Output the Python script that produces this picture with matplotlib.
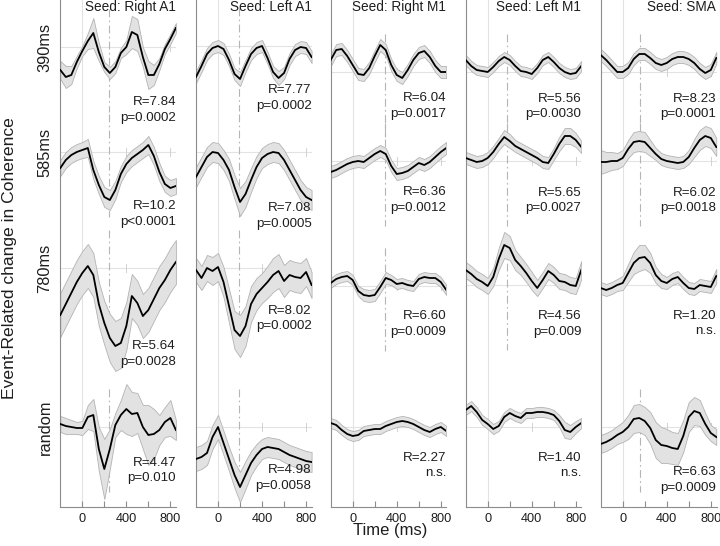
import matplotlib
matplotlib.use('Agg')
import matplotlib.pyplot as plt

plt.rcParams['font.family'] = ['Liberation Sans', 'DejaVu Sans']

# ---------------- data ----------------
TIME_MS = [-200, -150, -100, -50, 0, 50, 100, 150, 200, 250, 300,
           350, 400, 450, 500, 550, 600, 650, 700, 750, 800, 850]

SEEDS = ['Seed: Right A1', 'Seed: Left A1', 'Seed: Right M1', 'Seed: Left M1', 'Seed: SMA']
CONDITIONS = ['390ms', '585ms', '780ms', 'random']
X_TICKS = [0, 200, 400, 600, 800]
X_TICK_LABELS = ['0', '', '400', '', '800']
MARKER_MS = [240, 195, 290, 175, 155]   # dash-dot latency per seed

# mean event-related coherence change (arbitrary units) and half-width of band
RA1_390 = [-23, -30, -28, -15, -4, 6, 14, -5, -20, -26, -20, -6, 0, 15, 12, -10, -28, -28, -17, -2, 8, 19]
RA1_390_SE = [9, 11, 9, 6, 5, 8, 15, 9, 5, 6, 6, 5, 7, 16, 16, 10, 14, 10, 6, 5, 5, 5]
RA1_585 = [-16, -8, -3, 0, 2, 4, -18, -33, -45, -48, -38, -22, -12, -6, -2, 2, 7, -4, -20, -32, -36, -34]
RA1_585_SE = [8, 8, 8, 8, 8, 9, 9, 9, 10, 10, 9, 8, 8, 8, 8, 8, 9, 9, 9, 8, 8, 8]
RA1_780 = [-47, -36, -25, -14, -5, 2, -7, -36, -55, -70, -78, -75, -58, -28, -35, -48, -42, -31, -20, -12, -2, 6]
RA1_780_SE = [22, 22, 22, 22, 22, 22, 22, 22, 22, 24, 25, 25, 24, 22, 22, 22, 22, 22, 22, 22, 22, 22]
RA1_RND = [3, 1, 0, -1, -1, 10, 12, -22, -42, -22, 2, 12, 18, 13, 14, 0, -8, -7, -3, 5, 9, -3]
RA1_RND_SE = [8, 8, 7, 6, 7, 12, 16, 22, 30, 20, 12, 15, 25, 22, 20, 22, 30, 25, 15, 15, 18, 10]

LA1_390 = [-31, -20, -8, -2, 0, -3, -14, -28, -33, -20, -8, -2, 0, -12, -26, -32, -27, -13, -4, -1, -2, -11]
LA1_390_SE = [6, 6, 6, 6, 6, 6, 6, 6, 7, 6, 6, 6, 6, 6, 6, 7, 6, 6, 6, 6, 6, 6]
LA1_585 = [-25, -15, -5, 0, -1, -8, -18, -35, -50, -42, -28, -15, -6, -2, 0, -1, -8, -18, -28, -38, -45, -48]
LA1_585_SE = [10, 10, 10, 10, 10, 10, 11, 12, 14, 13, 12, 11, 10, 10, 10, 10, 10, 10, 10, 10, 10, 10]
LA1_780 = [-2, -10, 0, -3, 1, -14, -38, -62, -68, -58, -36, -26, -20, -14, -7, -3, -13, -7, -9, -10, -4, -17]
LA1_780_SE = [12, 12, 13, 14, 14, 15, 17, 19, 21, 20, 18, 16, 15, 16, 17, 17, 16, 15, 15, 15, 14, 13]
LA1_RND = [-32, -30, -26, -10, 0, -16, -32, -48, -60, -48, -36, -28, -22, -20, -21, -22, -25, -28, -30, -32, -34, -35]
LA1_RND_SE = [12, 12, 12, 12, 12, 12, 12, 13, 15, 14, 12, 11, 10, 10, 10, 10, 10, 10, 10, 10, 10, 10]

RM1_390 = [12, 22, 23, 16, 7, -2, -3, 4, 16, 27, 22, 7, -3, -6, 2, 12, 19, 21, 15, 6, 0, 0]
RM1_390_SE = [6, 6, 6, 6, 6, 6, 6, 6, 6, 6, 6, 6, 6, 6, 6, 6, 6, 6, 6, 6, 6, 6]
RM1_585 = [-11, -9, -6, -3, -1, 0, -1, 3, 7, 10, 7, -5, -13, -12, -10, -6, -2, -4, -1, 4, 9, 13]
RM1_585_SE = [6, 6, 6, 6, 6, 6, 6, 6, 6, 6, 6, 6, 6, 6, 6, 6, 6, 6, 6, 6, 6, 6]
RM1_780 = [3, 7, 9, 10, 6, -5, -9, -10, -9, -1, 8, 6, 2, 3, 1, 0, 7, 9, 8, 8, 4, -4]
RM1_780_SE = [5, 5, 5, 5, 5, 5, 6, 6, 6, 6, 6, 5, 5, 5, 5, 5, 5, 5, 5, 5, 5, 5]
RM1_RND = [4, 2, -3, -7, -9, -8, -4, -3, -2, -2, 1, 3, 5, 6, 5, 3, 0, -3, -5, -2, 0, -4]
RM1_RND_SE = [5, 5, 5, 5, 5, 5, 5, 5, 5, 5, 5, 5, 5, 5, 5, 5, 5, 5, 5, 5, 5, 5]

LM1_390 = [12, 6, 2, 1, 0, 5, 11, 15, 12, 6, 1, 0, -2, 4, 12, 15, 10, 4, 0, -2, -1, 6]
LM1_390_SE = [5, 5, 5, 5, 5, 5, 5, 5, 5, 5, 5, 5, 5, 5, 5, 5, 5, 5, 5, 5, 5, 5]
LM1_585 = [3, 1, -1, 0, 3, 9, 17, 24, 20, 15, 12, 9, 6, 3, -1, -2, 7, 17, 25, 25, 21, 14]
LM1_585_SE = [6, 6, 6, 6, 6, 6, 6, 7, 7, 6, 6, 6, 6, 6, 6, 6, 6, 7, 8, 8, 7, 6]
LM1_780 = [15, 11, 6, 3, -1, 8, 26, 40, 37, 25, 19, 12, 4, -3, 5, 14, 10, 4, 3, 0, -1, 15]
LM1_780_SE = [8, 8, 8, 8, 8, 9, 11, 13, 12, 10, 9, 9, 9, 8, 8, 8, 8, 8, 8, 8, 8, 9]
LM1_RND = [17, 21, 15, 7, 3, -2, 1, 10, 14, 11, 9, 14, 14, 15, 15, 14, 12, 6, -3, -5, 0, 4]
LM1_RND_SE = [5, 5, 5, 5, 5, 5, 5, 5, 5, 5, 5, 5, 5, 5, 5, 5, 5, 6, 8, 7, 6, 5]

SMA_390 = [17, 12, 6, 0, 0, 4, 13, 18, 18, 14, 9, 7, 9, 13, 15, 15, 13, 9, 3, -1, 2, 14]
SMA_390_SE = [6, 6, 6, 6, 6, 6, 6, 6, 6, 6, 6, 6, 6, 6, 6, 6, 6, 6, 6, 6, 6, 6]
SMA_585 = [-1, -1, 0, 0, 3, 12, 19, 20, 19, 13, 7, 2, 0, -1, -2, -1, 4, 13, 21, 25, 23, 14]
SMA_585_SE = [12, 10, 9, 8, 8, 9, 10, 10, 10, 8, 6, 6, 6, 6, 6, 6, 7, 9, 10, 10, 10, 9]
SMA_780 = [-3, -5, -3, 0, 2, 12, 22, 27, 28, 22, 10, 4, 2, 6, 8, 2, -3, -4, 0, -1, -2, 9]
SMA_780_SE = [6, 6, 6, 6, 7, 9, 11, 13, 12, 10, 8, 7, 6, 6, 6, 6, 6, 6, 6, 6, 6, 7]
SMA_RND = [-17, -15, -12, -8, -5, 0, 8, 9, 6, -1, -13, -18, -19, -21, -22, -9, 10, 16, 14, 3, -6, -10]
SMA_RND_SE = [9, 9, 9, 9, 10, 12, 14, 14, 14, 16, 18, 18, 17, 16, 16, 16, 15, 14, 13, 11, 8, 8]

R_RIGHT_A1 = ['R=7.84', 'R=10.2', 'R=5.64', 'R=4.47']
P_RIGHT_A1 = ['p=0.0002', 'p<0.0001', 'p=0.0028', 'p=0.010']
R_LEFT_A1 = ['R=7.77', 'R=7.08', 'R=8.02', 'R=4.98']
P_LEFT_A1 = ['p=0.0002', 'p=0.0005', 'p=0.0002', 'p=0.0058']
R_RIGHT_M1 = ['R=6.04', 'R=6.36', 'R=6.60', 'R=2.27']
P_RIGHT_M1 = ['p=0.0017', 'p=0.0012', 'p=0.0009', 'n.s.']
R_LEFT_M1 = ['R=5.56', 'R=5.65', 'R=4.56', 'R=1.40']
P_LEFT_M1 = ['p=0.0030', 'p=0.0027', 'p=0.009', 'n.s.']
R_SMA = ['R=8.23', 'R=6.02', 'R=1.20', 'R=6.63']
P_SMA = ['p=0.0001', 'p=0.0018', 'n.s.', 'p=0.0009']

MEANS = [[RA1_390, RA1_585, RA1_780, RA1_RND],
         [LA1_390, LA1_585, LA1_780, LA1_RND],
         [RM1_390, RM1_585, RM1_780, RM1_RND],
         [LM1_390, LM1_585, LM1_780, LM1_RND],
         [SMA_390, SMA_585, SMA_780, SMA_RND]]
BANDS = [[RA1_390_SE, RA1_585_SE, RA1_780_SE, RA1_RND_SE],
         [LA1_390_SE, LA1_585_SE, LA1_780_SE, LA1_RND_SE],
         [RM1_390_SE, RM1_585_SE, RM1_780_SE, RM1_RND_SE],
         [LM1_390_SE, LM1_585_SE, LM1_780_SE, LM1_RND_SE],
         [SMA_390_SE, SMA_585_SE, SMA_780_SE, SMA_RND_SE]]
R_TEXT = [R_RIGHT_A1, R_LEFT_A1, R_RIGHT_M1, R_LEFT_M1, R_SMA]
P_TEXT = [P_RIGHT_A1, P_LEFT_A1, P_RIGHT_M1, P_LEFT_M1, P_SMA]

# ---------------- layout (pixels) ----------------
FIG_W, FIG_H = 720, 546
AX_BOTTOM_PX = 507
COL_LEFT_PX = [60.3, 196.0, 330.7, 465.7, 600.7]
AX_W_PX = 115.8
BASELINE_PX = [[47, 152, 268, 427],
               [46, 152, 268, 427],
               [72, 161, 286, 427],
               [72, 161, 285, 427],
               [72, 161, 285, 427]]
R_Y_PX = [[102, 206, 346, 463],
          [90, 208, 311, 470],
          [98, 192, 316, 458],
          [99, 193, 316, 458],
          [99, 193, 316, 472]]
P_GAP_PX = 15.5

fig = plt.figure(figsize=(FIG_W / 100, FIG_H / 100), dpi=100)

spine_col = '#8c8c8c'
grid_col = '#e3e3e3'
text_col = '#1e1e1e'

for c in range(5):
    ax = fig.add_axes([COL_LEFT_PX[c] / FIG_W, (FIG_H - AX_BOTTOM_PX) / FIG_H,
                       AX_W_PX / FIG_W, AX_BOTTOM_PX / FIG_H])
    ax.set_xlim(-200, 852)
    ax.set_ylim(-AX_BOTTOM_PX, 0)
    ax.axvline(0, color=grid_col, lw=0.8, zorder=0)
    for r in range(4):
        base = -BASELINE_PX[c][r]
        ax.axhline(base, color=grid_col, lw=0.8, zorder=0)
        for t in (400, 800):
            ax.plot([t, t], [base - 4, base + 4], color='#d2d2d2', lw=0.7, zorder=0)
        if P_TEXT[c][r] != 'n.s.':
            ax.plot([MARKER_MS[c]] * 2, [base + 38, base - 65], color='#b5b5b5',
                    lw=0.8, ls=(0, (7, 3, 1.5, 3)), zorder=1)
        m = MEANS[c][r]
        s = BANDS[c][r]
        lo = [base + v - e for v, e in zip(m, s)]
        hi = [base + v + e for v, e in zip(m, s)]
        ax.fill_between(TIME_MS, lo, hi, facecolor='#e2e2e2', edgecolor='#b3b3b3',
                        linewidth=0.6, zorder=2)
        ax.plot(TIME_MS, [base + v for v in m], color='black', lw=1.3, zorder=3)
        ax.text(850, -R_Y_PX[c][r], R_TEXT[c][r], ha='right', va='center',
                fontsize=9.6, color=text_col, zorder=4)
        ax.text(850, -(R_Y_PX[c][r] + P_GAP_PX), P_TEXT[c][r], ha='right', va='center',
                fontsize=9.6, color=text_col, zorder=4)
    ax.text(850, -7, SEEDS[c], ha='right', va='center', fontsize=9.8, color=text_col)
    ax.set_yticks([])
    ax.set_xticks(X_TICKS)
    ax.set_xticklabels(X_TICK_LABELS)
    ax.tick_params(axis='x', direction='in', length=4, color=spine_col, labelsize=9.2,
                   pad=4, labelcolor=text_col)
    for side in ('top', 'right'):
        ax.spines[side].set_visible(False)
    for side in ('left', 'bottom'):
        ax.spines[side].set_color(spine_col)
        ax.spines[side].set_linewidth(0.8)
    ax.patch.set_alpha(0)

for r in range(4):
    fig.text(45 / FIG_W, 1 - BASELINE_PX[0][r] / FIG_H, CONDITIONS[r], rotation=90,
             ha='center', va='center', fontsize=11.8, color=text_col)

fig.text(10 / FIG_W, 1 - 258 / FIG_H, 'Event-Related change in Coherence', rotation=90,
         ha='center', va='center', fontsize=12.6, color=text_col)
fig.text(390 / FIG_W, 1 - 531 / FIG_H, 'Time (ms)', ha='center', va='center',
         fontsize=12, color=text_col)

fig.savefig('out.png', dpi=100)
